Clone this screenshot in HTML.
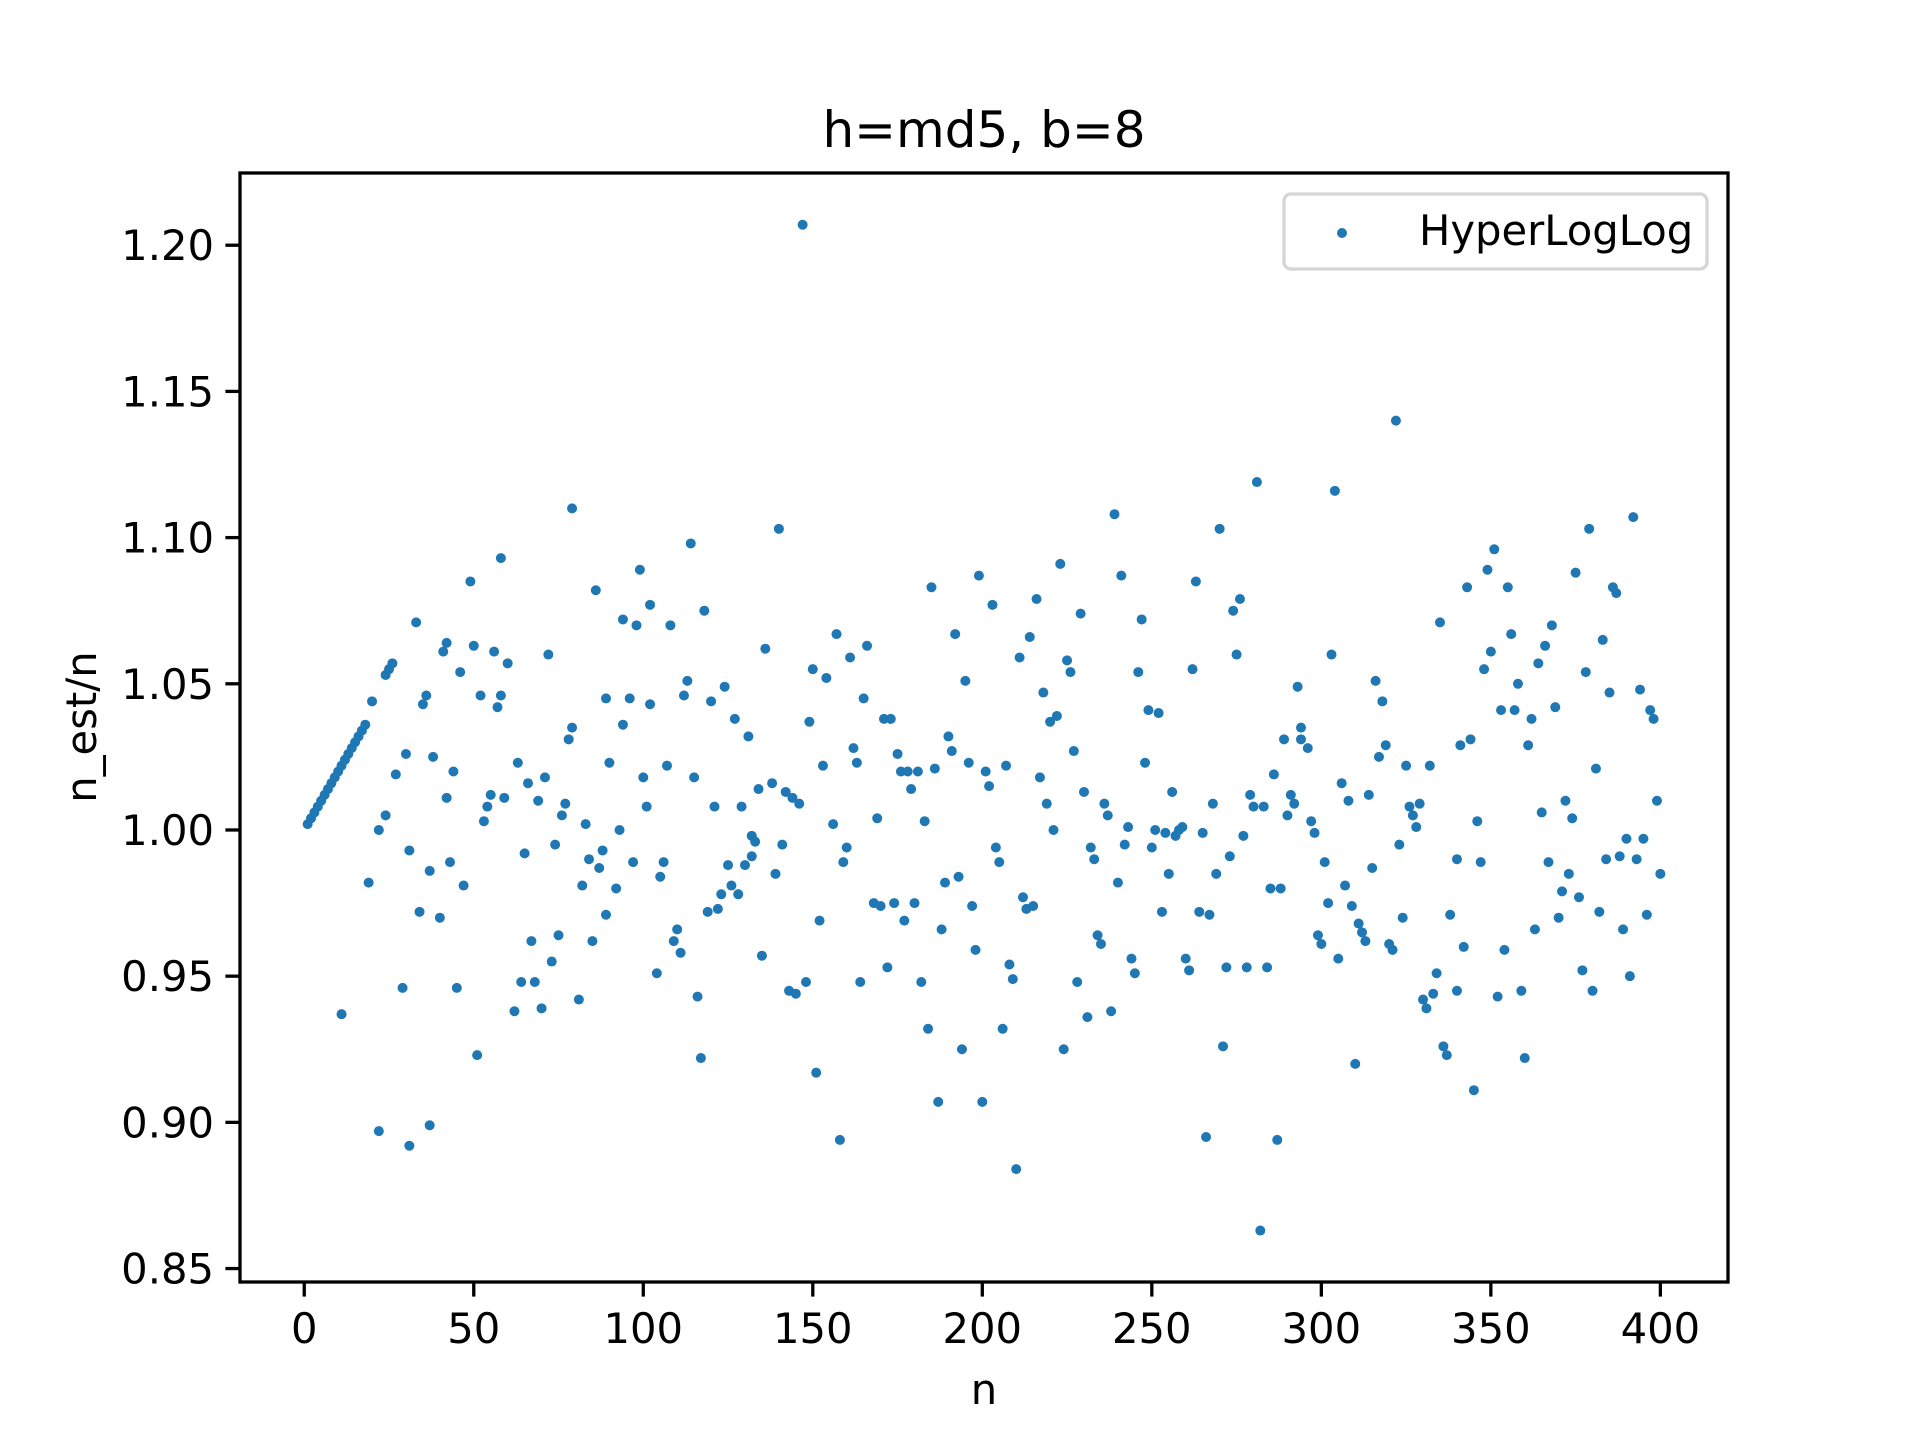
<!DOCTYPE html>
<html><head><meta charset="utf-8"><style>
html,body{margin:0;padding:0;background:#fff;}
svg text{font-family:"DejaVu Sans","Liberation Sans",sans-serif;fill:#000;}
</style></head><body>
<svg id="chart" width="1920" height="1440" viewBox="0 0 1920 1440" xmlns="http://www.w3.org/2000/svg">
<rect width="1920" height="1440" fill="#fff"/>
<text x="984" y="147" font-size="50" text-anchor="middle">h=md5, b=8</text>
<g id="points"></g>
<g id="axes"></g>
<text x="984" y="1404" font-size="41.7" text-anchor="middle">n</text>
<text transform="translate(96,727) rotate(-90)" font-size="41.7" text-anchor="middle">n_est/n</text>
<g>
<rect x="1284" y="194" width="423" height="75" rx="7" fill="#fff" fill-opacity="0.8" stroke="#d5d5d5" stroke-width="3.3"/>
<circle cx="1342" cy="233" r="5" fill="#1f77b4"/>
<text x="1419" y="245" font-size="41.7">HyperLogLog</text>
</g>
</svg>
<script>
const nVals=[1,2,3,4,5,6,7,8,9,10,11,12,13,14,15,16,17,18,
11,19,20,22,22,24,24,25,26,27,29,30,31,31,33,34,35,36,37,37,38,40,41,42,42,43,44,45,46,47,49,50,51,52,53,54,55,56,57,58,58,59,60,62,63,64,65,66,67,68,69,70,71,72,73,74,75,76,77,78,79,79,81,82,83,84,85,86,87,88,89,89,90,92,93,94,94,96,97,98,99,100,101,102,102,104,105,106,107,108,109,110,111,112,113,114,115,116,117,118,119,120,121,122,123,124,125,126,127,128,129,130,131,132,132,133,134,135,136,138,139,140,141,142,143,144,145,146,147,148,149,150,151,152,153,154,156,157,158,159,160,161,162,163,164,165,166,168,169,170,171,172,173,174,175,176,177,178,179,180,181,182,183,184,185,186,187,188,189,190,191,192,193,194,195,196,197,198,199,200,201,202,203,204,205,206,207,208,209,210,211,212,213,214,215,216,217,218,219,220,221,222,223,224,225,226,227,228,229,230,231,232,233,234,235,236,237,238,239,240,241,242,243,244,245,246,247,248,249,250,251,252,253,254,255,256,257,258,259,260,261,262,263,264,265,266,267,268,269,270,271,272,273,274,275,276,277,278,279,280,281,282,283,284,285,286,287,288,289,290,291,292,293,294,294,296,297,298,299,300,301,302,303,304,305,306,307,308,309,310,311,312,313,314,315,316,317,318,319,320,321,322,323,324,325,326,327,328,329,330,331,332,333,334,335,336,337,338,340,340,341,342,343,344,345,346,347,348,349,350,351,352,353,354,355,356,357,358,359,360,361,362,363,364,365,366,367,368,369,370,371,372,373,374,375,376,377,378,379,380,381,382,383,384,385,386,387,388,389,390,391,392,393,394,395,396,397,398,399,400];
const ratios=[1.002,1.004,1.006,1.008,1.010,1.012,1.014,1.016,1.018,1.020,1.022,1.024,1.026,1.028,1.030,1.032,1.034,1.036,
0.937,0.982,1.044,0.897,1.000,1.005,1.053,1.055,1.057,1.019,0.946,1.026,0.993,0.892,1.071,0.972,1.043,1.046,0.986,0.899,1.025,0.970,1.061,1.064,1.011,0.989,1.020,0.946,1.054,0.981,1.085,1.063,0.923,1.046,1.003,1.008,1.012,1.061,1.042,1.046,1.093,1.011,1.057,0.938,1.023,0.948,0.992,1.016,0.962,0.948,1.010,0.939,1.018,1.060,0.955,0.995,0.964,1.005,1.009,1.031,1.035,1.110,0.942,0.981,1.002,0.990,0.962,1.082,0.987,0.993,1.045,0.971,1.023,0.980,1.000,1.036,1.072,1.045,0.989,1.070,1.089,1.018,1.008,1.043,1.077,0.951,0.984,0.989,1.022,1.070,0.962,0.966,0.958,1.046,1.051,1.098,1.018,0.943,0.922,1.075,0.972,1.044,1.008,0.973,0.978,1.049,0.988,0.981,1.038,0.978,1.008,0.988,1.032,0.998,0.991,0.996,1.014,0.957,1.062,1.016,0.985,1.103,0.995,1.013,0.945,1.011,0.944,1.009,1.207,0.948,1.037,1.055,0.917,0.969,1.022,1.052,1.002,1.067,0.894,0.989,0.994,1.059,1.028,1.023,0.948,1.045,1.063,0.975,1.004,0.974,1.038,0.953,1.038,0.975,1.026,1.020,0.969,1.020,1.014,0.975,1.020,0.948,1.003,0.932,1.083,1.021,0.907,0.966,0.982,1.032,1.027,1.067,0.984,0.925,1.051,1.023,0.974,0.959,1.087,0.907,1.020,1.015,1.077,0.994,0.989,0.932,1.022,0.954,0.949,0.884,1.059,0.977,0.973,1.066,0.974,1.079,1.018,1.047,1.009,1.037,1.000,1.039,1.091,0.925,1.058,1.054,1.027,0.948,1.074,1.013,0.936,0.994,0.990,0.964,0.961,1.009,1.005,0.938,1.108,0.982,1.087,0.995,1.001,0.956,0.951,1.054,1.072,1.023,1.041,0.994,1.000,1.040,0.972,0.999,0.985,1.013,0.998,1.000,1.001,0.956,0.952,1.055,1.085,0.972,0.999,0.895,0.971,1.009,0.985,1.103,0.926,0.953,0.991,1.075,1.060,1.079,0.998,0.953,1.012,1.008,1.119,0.863,1.008,0.953,0.980,1.019,0.894,0.980,1.031,1.005,1.012,1.009,1.049,1.035,1.031,1.028,1.003,0.999,0.964,0.961,0.989,0.975,1.060,1.116,0.956,1.016,0.981,1.010,0.974,0.920,0.968,0.965,0.962,1.012,0.987,1.051,1.025,1.044,1.029,0.961,0.959,1.140,0.995,0.970,1.022,1.008,1.005,1.001,1.009,0.942,0.939,1.022,0.944,0.951,1.071,0.926,0.923,0.971,0.990,0.945,1.029,0.960,1.083,1.031,0.911,1.003,0.989,1.055,1.089,1.061,1.096,0.943,1.041,0.959,1.083,1.067,1.041,1.050,0.945,0.922,1.029,1.038,0.966,1.057,1.006,1.063,0.989,1.070,1.042,0.970,0.979,1.010,0.985,1.004,1.088,0.977,0.952,1.054,1.103,0.945,1.021,0.972,1.065,0.990,1.047,1.083,1.081,0.991,0.966,0.997,0.950,1.107,0.990,1.048,0.997,0.971,1.041,1.038,1.010,0.985];
const xTicks=[0,50,100,150,200,250,300,350,400];
const yTicks=[0.85,0.90,0.95,1.00,1.05,1.10,1.15,1.20];
const yTickLabels=["0.85","0.90","0.95","1.00","1.05","1.10","1.15","1.20"];

const L=240,R=1728,T=173,B=1282;
const xMin=-18.95,xMax=419.95,yMin=0.8454,yMax=1.2247;
function sx(v){return L+(v-xMin)/(xMax-xMin)*(R-L);}
function sy(v){return B-(v-yMin)/(yMax-yMin)*(B-T);}
const NS="http://www.w3.org/2000/svg";
function mk(tag,attrs,parent){const e=document.createElementNS(NS,tag);for(const k in attrs)e.setAttribute(k,attrs[k]);parent.appendChild(e);return e;}
const pts=document.getElementById('points');
for(let i=0;i<nVals.length;i++){
  const c=mk('circle',{cx:sx(nVals[i]),cy:sy(ratios[i]),r:5,fill:'#1f77b4'},pts);
  
  
}
const ax=document.getElementById('axes');
xTicks.forEach(t=>{
  const x=sx(t);
  const l=mk('line',{x1:x,x2:x,y1:B,y2:B+14.6,stroke:'#000','stroke-width':3.3},ax);
  
  
  const tx=mk('text',{x:x,y:1343,'font-size':41.7,'text-anchor':'middle'},ax);
  tx.textContent=String(t);
  
  
});
yTicks.forEach((t,i)=>{
  const y=sy(t);
  const l=mk('line',{x1:L-14.6,x2:L,y1:y,y2:y,stroke:'#000','stroke-width':3.3},ax);
  
  
  const tx=mk('text',{x:L-26,y:y+15,'font-size':41.7,'text-anchor':'end'},ax);
  tx.textContent=yTickLabels[i];
  
  
});
const frame=mk('rect',{x:L,y:T,width:R-L,height:B-T,fill:'none',stroke:'#000','stroke-width':3.3},ax);


</script>
</body></html>
